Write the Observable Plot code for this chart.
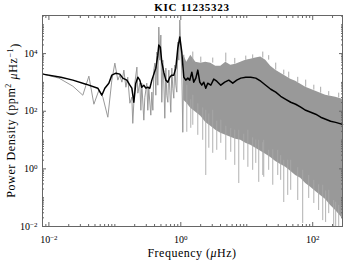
<!DOCTYPE html>
<html><head><meta charset="utf-8">
<script src="https://cdn.jsdelivr.net/npm/d3@7"></script>
<script src="https://cdn.jsdelivr.net/npm/@observablehq/plot@0.6"></script>
<style>
html,body{margin:0;padding:0;background:#fff;}
#chart svg{display:block;}
</style></head><body><div id="chart"></div>
<script>
// Smoothed spectrum (black), frequency in µHz, power density in ppm^2/µHz
const freqSmooth = [0.0081,0.0152,0.0231,0.0364,0.0552,0.0635,0.0705,0.0811,0.0901,0.1036,0.119,0.132,0.152,0.169,0.181,0.194,0.208,0.223,0.239,0.256,0.275,0.295,0.316,0.339,0.364,0.390,0.418,0.448,0.464,0.489,0.515,0.552,0.593,0.636,0.681,0.731,0.783,0.840,0.901,0.966,1.035,1.11,1.19,1.28,1.37,1.47,1.57,1.69,1.81,1.94,2.08,2.23,2.39,2.56,2.85,3.16,3.51,4.04,4.64,5.34,6.14,7.05,8.11,9.66,11.5,13.7,16.3,19.4,23.1,27.5,32.7,39.0,46.4,55.2,65.8,78.3,93.3,111,132,157,187,223,283];
const powerSmooth = [1940,1520,1200,870,630,360,630,940,1790,2090,1940,1410,1200,800,630,205,940,1520,1200,680,800,630,680,630,1200,1940,3130,8850,19700,16800,5060,2270,1200,1020,1520,1790,1790,3130,15500,37400,11300,1520,1200,1410,1200,2270,1020,1410,2670,1020,800,1020,630,940,800,1300,1100,800,1020,1200,940,1200,1410,1520,1520,1410,1100,800,580,460,330,260,205,175,138,108,92,79,62,53,45,41,35];

// Raw spectrum (grey), resolved low-frequency part
const freqRaw = [0.0081,0.0142,0.0231,0.0327,0.0404,0.0481,0.0573,0.0658,0.0783,0.0901,0.100,0.111,0.119,0.128,0.137,0.147,0.157,0.169,0.181,0.187,0.201,0.216,0.223,0.239,0.248,0.256,0.275,0.285,0.305,0.316,0.327,0.351,0.364,0.377,0.390,0.404,0.418,0.433,0.448,0.464,0.481,0.498,0.515,0.534,0.552,0.572,0.593,0.614,0.636,0.658,0.681,0.705,0.731,0.756,0.783,0.811,0.840,0.870,0.901,0.933,0.966,1.0,1.035,1.072,1.11];
const powerRaw = [1940,1410,740,360,1650,175,537,307,62,1200,4670,1200,1790,1020,2670,680,1520,190,307,38,940,3390,423,940,108,940,49,307,940,108,630,73,460,108,2670,4670,360,11300,800,83400,5930,44000,205,5930,1200,57,3130,360,205,2670,537,92,3130,630,283,3980,800,460,25100,5930,146000,13200,2670,18.6,8850];

// Raw spectrum (grey), dense high-frequency part: upper and lower edge of the filled region
const freqDense = [1.11,1.233,1.417,1.69,2.01,2.39,2.85,3.39,4.04,4.81,5.72,6.81,8.11,9.66,11.5,13.7,16.3,19.4,23.1,27.5,32.7,39.0,46.4,55.2,65.8,78.3,93.3,111,132,157,187,223,283];
const denseUpper = [8850,5060,8850,5060,4670,5060,4670,3670,3670,5060,3980,4310,5060,5930,6430,6970,7550,5930,3670,2670,2090,1650,1300,1100,870,680,582,496,423,360,330,307,261];
const denseLower = [241,190,127,92,67,41,30,21.8,17.2,14.6,12.5,10.6,9.8,7.7,6.6,5.2,4.1,3.2,2.5,1.8,1.43,1.13,0.82,0.59,0.47,0.31,0.23,0.165,0.12,0.087,0.054,0.036,0.019];

// Individual dips of the raw spectrum below the dense region
const dipFreq = [1.233,1.417,1.52,1.81,2.15,2.39,2.66,3.05,3.51,4.04,4.81,5.72,6.58,7.57,9.01,10.4,12.3,13.7,15.2,17.5,18.1,21.5,24.8,29.5,32.7,36.4,41.8,46.4,59.3,70.5,87,104,123,142,157,175,208,223,248];
const dipTop = [800,250,360,180,130,108,80,108,45,49,30,25,22,21.8,16,21.8,12,10,9.8,8,9.8,4.4,4.6,4.4,2.9,1.98,2,1.98,1.1,0.89,0.59,0.40,0.28,0.27,0.17,0.18,0.08,0.07,0.054];
const dipBottom = [18.6,25.6,32.6,14.6,9.8,0.59,5.2,3.46,4.4,7.7,1.98,3.75,1.32,0.31,1.98,1.13,0.89,1.55,0.34,0.59,0.51,0.89,0.27,0.59,0.40,0.068,0.12,0.18,0.08,0.0127,0.094,0.063,0.036,0.016,0.0138,0.028,0.01,0.01,0.01];

// Individual peaks of the raw spectrum above the dense region
const peakFreq = [1.52,2.01,3.05,4.81,6.58,9.66,12.3,17.5,21.5,27.5,36.4,43.3,59.3,78.3,104,132,175,248];
const peakBase = [5060,4670,4670,5060,4310,5930,6430,7000,5930,2670,1800,1400,1000,680,540,423,340,290];
const peakTop = [11300,7550,7000,10400,6800,8180,9000,11300,8500,4670,2670,2270,1500,1200,800,680,480,423];

// Axes
const xTickValues = [0.01, 1, 100];
const xTickLabels = ["10^-2", "10^0", "10^2"];
const yTickValues = [0.01, 1, 100, 10000];
const yTickLabels = ["10^-2", "10^0", "10^2", "10^4"];
const decades = [0.001, 0.01, 0.1, 1, 10, 100, 1000, 10000, 100000];
const xDomain = [0.008, 283];
const yDomain = [0.01, 2.1e5];

const minorX = [], minorY = [];
for (const d of decades) for (let n = 1; n <= 9; n++) {
  const v = n * d;
  if (v >= xDomain[0] && v <= xDomain[1] && !xTickValues.includes(v)) minorX.push(v);
  if (v >= yDomain[0] && v <= yDomain[1] && !yTickValues.includes(v)) minorY.push(v);
}

const title = "KIC 11235323";
const font = "'Liberation Serif', 'DejaVu Serif', serif";
const W = 349, H = 262, mL = 42, mR = 7, mT = 15, mB = 36;
const axisColor = "#666";

const chart = Plot.plot({
  width: W, height: H,
  marginLeft: mL, marginRight: mR, marginTop: mT, marginBottom: mB,
  style: {fontFamily: font, fontSize: "10px", background: "#fff", color: "#000"},
  x: {type: "log", domain: xDomain},
  y: {type: "log", domain: yDomain},
  marks: [
    Plot.areaY({length: freqDense.length}, {x: freqDense, y1: denseLower, y2: denseUpper, fill: "#999"}),
    Plot.ruleX({length: dipFreq.length}, {x: dipFreq, y1: dipBottom, y2: dipTop, stroke: "#a8a8a8", strokeWidth: 0.9}),
    Plot.ruleX({length: peakFreq.length}, {x: peakFreq, y1: peakBase, y2: peakTop, stroke: "#a0a0a0", strokeWidth: 0.9}),
    Plot.line({length: freqRaw.length}, {x: freqRaw, y: powerRaw, stroke: "#999", strokeWidth: 1}),
    Plot.line({length: freqSmooth.length}, {x: freqSmooth, y: powerSmooth, stroke: "#000", strokeWidth: 1.5}),
    Plot.frame({stroke: axisColor, strokeWidth: 1}),
    // inward ticks on all four sides
    Plot.axisX(minorX, {anchor: "bottom", tickSize: -2, tickFormat: () => "", stroke: axisColor, label: null}),
    Plot.axisX(minorX, {anchor: "top", tickSize: -2, tickFormat: () => "", stroke: axisColor, label: null}),
    Plot.axisX(xTickValues, {anchor: "bottom", tickSize: -4, tickFormat: () => "", stroke: axisColor, label: null}),
    Plot.axisX(xTickValues, {anchor: "top", tickSize: -4, tickFormat: () => "", stroke: axisColor, label: null}),
    Plot.axisY(minorY, {anchor: "left", tickSize: -2, tickFormat: () => "", stroke: axisColor, label: null}),
    Plot.axisY(minorY, {anchor: "right", tickSize: -2, tickFormat: () => "", stroke: axisColor, label: null}),
    Plot.axisY(yTickValues, {anchor: "left", tickSize: -4, tickFormat: () => "", stroke: axisColor, label: null}),
    Plot.axisY(yTickValues, {anchor: "right", tickSize: -4, tickFormat: () => "", stroke: axisColor, label: null}),
    // tick labels
    Plot.axisX(xTickValues, {anchor: "bottom", tickSize: 0, tickPadding: 9, tickFormat: d => xTickLabels[xTickValues.indexOf(d)], label: null, fontSize: 10}),
    Plot.axisY(yTickValues, {anchor: "left", tickSize: 0, tickPadding: 5, tickFormat: d => yTickLabels[yTickValues.indexOf(d)], label: null, fontSize: 10})
  ]
});
document.getElementById("chart").appendChild(chart);

const svg = d3.select(chart);
// superscript exponents in tick labels
svg.selectAll("text").each(function() {
  const t = this.textContent;
  const m = /^10\^(.+)$/.exec(t);
  if (!m) return;
  const el = d3.select(this);
  el.text("");
  el.append("tspan").text("10");
  el.append("tspan").attr("dy", "-0.42em").attr("font-size", "7px").text(m[1].replace("-", "\u2212"));
});

const cx = mL + (W - mL - mR) / 2;
svg.append("text").attr("x", cx).attr("y", 11).attr("text-anchor", "middle")
  .attr("font-family", font).attr("font-weight", "bold").attr("font-size", 11)
  .attr("letter-spacing", "0.7px").attr("fill", "#000").text(title);

const xl = svg.append("text").attr("x", cx).attr("y", 257).attr("text-anchor", "middle")
  .attr("font-family", font).attr("font-size", 12).attr("letter-spacing", "0.5px").attr("fill", "#000");
xl.append("tspan").text("Frequency (");
xl.append("tspan").attr("font-style", "italic").text("\u03bc");
xl.append("tspan").text("Hz)");

const yl = svg.append("text").attr("transform", `translate(15,${mT + (H - mT - mB) / 2}) rotate(-90)`)
  .attr("text-anchor", "middle").attr("font-family", font).attr("font-size", 12)
  .attr("letter-spacing", "0.6px").attr("fill", "#000");
yl.append("tspan").text("Power Density (ppm");
yl.append("tspan").attr("dy", "-0.45em").attr("font-size", "8px").text("2");
yl.append("tspan").attr("dy", "0.45em").text(" ");
yl.append("tspan").attr("font-style", "italic").text("\u03bc");
yl.append("tspan").text("Hz");
yl.append("tspan").attr("dy", "-0.45em").attr("font-size", "8px").text("\u22121");
yl.append("tspan").attr("dy", "0.45em").text(")");
</script></body></html>
